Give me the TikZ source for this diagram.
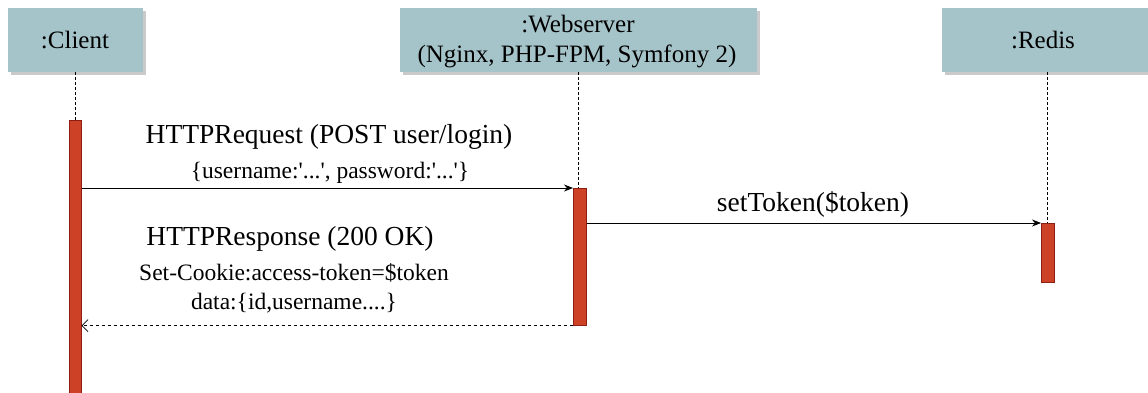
\documentclass[tikz,border=0pt]{standalone}
\usepackage{fontspec}
\setmainfont{Liberation Serif}
\usetikzlibrary{arrows.meta,shadows}
\definecolor{boxfill}{RGB}{165,196,201}
\definecolor{actfill}{RGB}{205,65,38}
\definecolor{actdraw}{RGB}{140,30,20}
\newcommand{\sq}{\textquotesingle}
\tikzset{
  actor/.style={fill=boxfill, draw=none, inner sep=0pt, anchor=north west,
    drop shadow={shadow xshift=3pt, shadow yshift=-3pt, fill=black!35, opacity=.6},
    font=\fontsize{25}{32}\selectfont, align=center},
  actbar/.style={fill=actfill, draw=actdraw, line width=0.6pt, inner sep=0pt, anchor=north west},
  life/.style={line width=0.7pt, dash pattern=on 2.5pt off 2.5pt},
  msg/.style={line width=0.8pt, -{Stealth[length=9pt,width=7pt]}},
  ret/.style={line width=0.7pt, dash pattern=on 3pt off 3pt, -{Straight Barb[length=6pt,width=12pt]}},
  lbl/.style={font=\fontsize{25}{32}\selectfont, inner sep=0pt},
  big/.style={font=\fontsize{27.5}{32}\selectfont, inner sep=0pt},
  small/.style={font=\fontsize{23.5}{30}\selectfont, inner sep=0pt}
}
\begin{document}
\begin{tikzpicture}[x=1pt,y=-1pt]
\useasboundingbox (0,0) rectangle (1148,392);
% actors
\node[actor, minimum width=135pt, minimum height=64pt] (client) at (8,8) {};
\node[lbl] (clientlbl) at (75,40) {:Client};
\node[actor, minimum width=357pt, minimum height=64pt] (web) at (400,8) {};
\node[lbl] (weblbl1) at (578,24) {:Webserver};
\node[lbl] (weblbl2) at (577,56) {(Nginx, PHP-FPM, Symfony 2)};
\node[actor, minimum width=206pt, minimum height=64pt] (redis) at (942,8) {};
\node[lbl] (redislbl) at (1043,40) {:Redis};
% activation bars
\node[actbar, minimum width=12pt, minimum height=280pt] (cact) at (69,120) {};
\node[actbar, minimum width=13pt, minimum height=137pt] (wact) at (573,188) {};
\node[actbar, minimum width=13pt, minimum height=59pt] (ract) at (1041,223) {};
% lifelines
\draw[life] (75,72) coordinate (cl) -- (cl |- cact.north);
\draw[life] (578,72) coordinate (wl) -- (wl |- wact.north);
\draw[life] (1047,72) coordinate (rl) -- (rl |- ract.north);
% messages
\draw[msg] (cact.east |- wact.north west) -- (wact.north west);
\draw[msg] (wact.east |- ract.north west) -- (ract.north west);
\draw[ret] (wact.south west) -- (cact.east |- wact.south west);
% labels
\node[big] (l1) at (329,137) {HTTPRequest (POST user/login)};
\node[small] (l2) at (330,173) {\{username:\sq...\sq, password:\sq...\sq\}};
\node[big] (l3) at (813,204) {setToken(\$token)};
\node[big] (l4) at (290,239) {HTTPResponse (200 OK)};
\node[small] (l5) at (294,273) {Set-Cookie:access-token=\$token};
\node[small] (l6) at (294,303) {data:\{id,username....\}};
\end{tikzpicture}
\end{document}
